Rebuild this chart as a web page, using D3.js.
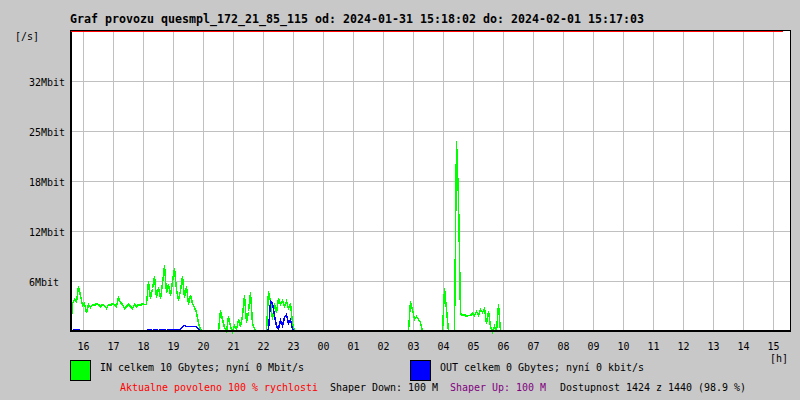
<!DOCTYPE html>
<html>
<head>
<meta charset="utf-8">
<script src="https://cdn.jsdelivr.net/npm/d3@7"></script>
<style>
  html, body { margin: 0; padding: 0; background: #c8c8c8; }
  svg { display: block; }
  text { font-family: "DejaVu Sans Mono", "Liberation Mono", monospace; }
</style>
</head>
<body>
<svg id="chart" width="800" height="400"></svg>
<script>
// ---------------- DATA ----------------
const titleText = "Graf provozu quesmpl_172_21_85_115 od: 2024-01-31 15:18:02 do: 2024-02-01 15:17:03";
const yUnitLabel = "[/s]";
const xUnitLabel = "[h]";

// y gridline values (Mbit/s) and their printed labels
const yTickValues = [6.4, 12.8, 19.2, 25.6, 32.0];
const yTickLabels = ["6Mbit", "12Mbit", "18Mbit", "25Mbit", "32Mbit"];

// hourly ticks
const hourTicks = ["2024-01-31T16:00", "2024-01-31T17:00", "2024-01-31T18:00", "2024-01-31T19:00",
  "2024-01-31T20:00", "2024-01-31T21:00", "2024-01-31T22:00", "2024-01-31T23:00",
  "2024-02-01T00:00", "2024-02-01T01:00", "2024-02-01T02:00", "2024-02-01T03:00",
  "2024-02-01T04:00", "2024-02-01T05:00", "2024-02-01T06:00", "2024-02-01T07:00",
  "2024-02-01T08:00", "2024-02-01T09:00", "2024-02-01T10:00", "2024-02-01T11:00",
  "2024-02-01T12:00", "2024-02-01T13:00", "2024-02-01T14:00", "2024-02-01T15:00"];
const hourLabels = ["16","17","18","19","20","21","22","23","00","01","02","03",
  "04","05","06","07","08","09","10","11","12","13","14","15"];

const timeDomain = ["2024-01-31T15:34", "2024-02-01T15:34"];
const stepMinutes = 4;

// IN traffic (Mbit/s), sampled every 4 minutes, segments of activity (zero elsewhere)
const inStarts = ["2024-01-31T15:34", "2024-01-31T20:30", "2024-01-31T22:06", "2024-02-01T02:50", "2024-02-01T03:58"];
const inSegA = [0, 3.6, 4.1, 3.9, 5.8, 4.6, 3.3, 3.6, 2.4, 3.5, 3.1, 3.4, 3.3, 3.6, 3.4, 3.2, 3.5, 3.3, 2.9, 3.5,
  3.3, 3.6, 3.4, 3.2, 4.4, 3.7, 3.4, 2.9, 3.2, 3.5, 3.2, 3.0, 3.4, 3.2, 3.5, 3.3, 3.6, 3.4, 3.5, 6.4,
  4.2, 5.5, 7.0, 4.4, 5.6, 4.2, 6.2, 8.4, 5.0, 6.0, 4.6, 6.4, 8.1, 5.4, 4.0, 5.2, 7.0, 4.4, 5.8, 3.4,
  4.6, 3.6, 3.1, 2.4, 1.0, 0.2, 0];
const inSegB = [0, 2.7, 1.5, 0.5, 0, 1.9, 0.6, 0, 0.8, 0.3, 1.5, 0.6, 2.0, 4.6, 1.2, 2.5, 5.0, 1.0, 0.4, 0];
const inSegC = [0, 5.1, 3.8, 1.6, 3.6, 2.4, 4.2, 3.4, 4.0, 3.2, 3.9, 3.0, 3.6, 1.2, 0];
const inSegD = [0, 3.9, 2.8, 1.6, 1.9, 1.5, 1.2, 0];
const inSegE = [0, 5.5, 2.8, 0, 0, 0, 0, 24.3, 17.0, 2.3, 2.0, 2.2, 1.9, 2.1, 2.0, 2.3, 2.1, 2.6, 2.0, 2.8,
  2.4, 3.0, 1.0, 2.6, 0.6, 0, 0.6, 0, 3.4, 0];

// OUT traffic (Mbit/s)
const outStarts = ["2024-01-31T15:34", "2024-01-31T18:06", "2024-01-31T22:06"];
const outSegA = [0, 0.1, 0.2, 0.2, 0.2, 0.1, 0];
const outSegB = [0, 0.2, 0.2, 0.1, 0.2, 0.2, 0.1, 0.3, 0.2, 0.2, 0.1, 0.2, 0.3, 0.2, 0.3, 0.2, 0.2, 0.3,
  0.7, 0.8, 0.7, 0.7, 0.6, 0.7, 0.6, 0.6, 0.3, 0.1, 0];
const outSegC = [0, 0.3, 3.8, 3.6, 2.0, 0.6, 0.4, 1.4, 0.8, 1.8, 2.2, 1.0, 1.6, 0.2, 0];

const legendIn = "IN celkem 10 Gbytes; nyní 0 Mbit/s";
const legendOut = "OUT celkem 0 Gbytes; nyní 0 kbit/s";
const footer = [
  { text: "Aktualne povoleno 100 % rychlosti", color: "#ff0000" },
  { text: "Shaper Down: 100 M", color: "#000000" },
  { text: "Shaper Up: 100 M", color: "#800080" },
  { text: "Dostupnost 1424 z 1440 (98.9 %)", color: "#000000" }
];

// ---------------- DRAW ----------------
const svg = d3.select("#chart");
const L = 70, R = 790, T = 30, B = 331;
const parse = d3.timeParse("%Y-%m-%dT%H:%M");

const x = d3.scaleTime().domain(timeDomain.map(parse)).range([L, R]);
const y = d3.scaleLinear().domain([0, 38.4]).range([B, T + 1]);

function txt(g, str, px, py, opts = {}) {
  const cw = opts.bold ? 7 : 6;
  const n = Array.from(str).length;
  return g.append("text")
    .attr("x", px).attr("y", py)
    .attr("font-size", opts.bold ? 11.5 : (opts.size || 11))
    .attr("font-weight", opts.bold ? "bold" : "normal")
    .attr("fill", opts.color || "#000")
    .attr("text-anchor", "start")
    .attr("textLength", n * cw)
    .attr("lengthAdjust", "spacingAndGlyphs")
    .text(str);
}

// background
svg.append("rect").attr("x", 0).attr("y", 0).attr("width", 800).attr("height", 400).attr("fill", "#c8c8c8");
// plot area
svg.append("rect").attr("x", L).attr("y", T).attr("width", R - L).attr("height", B - T).attr("fill", "#ffffff");

const grid = svg.append("g").attr("shape-rendering", "crispEdges").attr("stroke", "#c0c0c0").attr("stroke-width", 1);
const hourDates = hourTicks.map(parse);
grid.selectAll("line.v").data(hourDates).enter().append("line")
  .attr("x1", d => Math.round(x(d)) + 0.5).attr("x2", d => Math.round(x(d)) + 0.5)
  .attr("y1", T).attr("y2", B);
grid.selectAll("line.h").data(yTickValues).enter().append("line")
  .attr("x1", L).attr("x2", R)
  .attr("y1", d => Math.round(y(d)) + 0.5).attr("y2", d => Math.round(y(d)) + 0.5);

// series
function segData(starts, segs) {
  return segs.map((vals, k) => {
    const t0 = parse(starts[k]);
    return vals.map((v, i) => ({ t: d3.timeMinute.offset(t0, i * stepMinutes), v }));
  });
}
const line = d3.line()
  .x(d => Math.round(x(d.t)) + 0.5)
  .y(d => Math.round(y(d.v)) + 0.5);

const inData = segData(inStarts, [inSegA, inSegB, inSegC, inSegD, inSegE]);
const outData = segData(outStarts, [outSegA, outSegB, outSegC]);

svg.append("g").selectAll("path").data(inData).enter().append("path")
  .attr("d", line).attr("fill", "none").attr("stroke", "#00ff00").attr("stroke-width", 1.5)
  .attr("shape-rendering", "crispEdges");
svg.append("g").selectAll("path").data(outData).enter().append("path")
  .attr("d", line).attr("fill", "none").attr("stroke", "#0000ff").attr("stroke-width", 1.5)
  .attr("shape-rendering", "crispEdges");

// frame
const fr = svg.append("g").attr("fill", "#000").attr("shape-rendering", "crispEdges");
fr.append("rect").attr("x", L).attr("y", T).attr("width", R - L + 1).attr("height", 1);          // top
fr.append("rect").attr("x", R).attr("y", T).attr("width", 1).attr("height", B - T + 1);          // right
fr.append("rect").attr("x", L).attr("y", T).attr("width", 2).attr("height", B - T + 1);          // left
fr.append("rect").attr("x", L).attr("y", B - 1).attr("width", R - L + 1).attr("height", 2);      // bottom
svg.append("rect").attr("x", L + 1).attr("y", T + 1).attr("width", 712).attr("height", 1).attr("fill", "#ff0000")
  .attr("shape-rendering", "crispEdges");

// texts
const tg = svg.append("g");
txt(tg, titleText, 70, 22.5, { bold: true });
txt(tg, yUnitLabel, 15, 39.5);
yTickValues.forEach((v, i) => txt(tg, yTickLabels[i], 29, Math.round(y(v)) + 5));
hourDates.forEach((d, i) => {
  const s = hourLabels[i];
  txt(tg, s, Math.round(x(d)) - s.length * 3 + 0.5, 349.5);
});
txt(tg, xUnitLabel, 770, 361.5, { size: 10.5 });

// legend
svg.append("rect").attr("x", 70.5).attr("y", 360.5).attr("width", 20).attr("height", 20)
  .attr("fill", "#00ff00").attr("stroke", "#000").attr("stroke-width", 1);
svg.append("rect").attr("x", 410.5).attr("y", 360.5).attr("width", 20).attr("height", 20)
  .attr("fill", "#0000ff").attr("stroke", "#000").attr("stroke-width", 1);
txt(tg, legendIn, 100, 371);
txt(tg, legendOut, 440, 371);

const footX = [120, 330, 450, 560];
footer.forEach((f, i) => txt(tg, f.text, footX[i], 391, { color: f.color }));
</script>
</body>
</html>
